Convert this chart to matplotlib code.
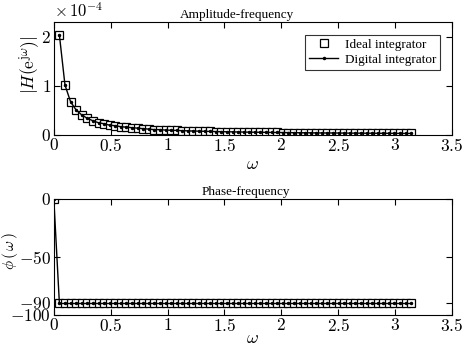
import matplotlib.pyplot as plt
import numpy as np

plt.rcParams['font.family'] = ['Liberation Serif', 'DejaVu Serif']
plt.rcParams['mathtext.fontset'] = 'cm'

# frequency points (rad/sample)
omega = [0.000, 0.049, 0.098, 0.147, 0.196, 0.245, 0.295, 0.344, 0.393, 0.442,
         0.491, 0.540, 0.589, 0.638, 0.687, 0.736, 0.785, 0.834, 0.884, 0.933,
         0.982, 1.031, 1.080, 1.129, 1.178, 1.227, 1.276, 1.325, 1.374, 1.424,
         1.473, 1.522, 1.571, 1.620, 1.669, 1.718, 1.767, 1.816, 1.865, 1.914,
         1.963, 2.013, 2.062, 2.111, 2.160, 2.209, 2.258, 2.307, 2.356, 2.405,
         2.454, 2.503, 2.553, 2.602, 2.651, 2.700, 2.749, 2.798, 2.847, 2.896,
         2.945, 2.994, 3.043, 3.093, 3.142]

# amplitude in units of 1e-4 (no point at omega = 0)
amp_ideal = [2.04, 1.02, 0.68, 0.51, 0.41, 0.34, 0.29, 0.25, 0.23, 0.20,
             0.19, 0.17, 0.16, 0.15, 0.14, 0.13, 0.12, 0.11, 0.11, 0.10,
             0.097, 0.093, 0.089, 0.085, 0.081, 0.078, 0.075, 0.073, 0.070, 0.068,
             0.066, 0.064, 0.062, 0.060, 0.058, 0.057, 0.055, 0.054, 0.052, 0.051,
             0.050, 0.049, 0.047, 0.046, 0.045, 0.044, 0.043, 0.042, 0.042, 0.041,
             0.040, 0.039, 0.038, 0.038, 0.037, 0.036, 0.036, 0.035, 0.035, 0.034,
             0.033, 0.033, 0.032, 0.032]
amp_digital = list(amp_ideal)

phase_ideal = [0] + [-90] * 64
phase_digital = [0] + [-90] * 64

x_ticks = [0, 0.5, 1, 1.5, 2, 2.5, 3, 3.5]
x_labels = ['$0$', '$0.5$', '$1$', '$1.5$', '$2$', '$2.5$', '$3$', '$3.5$']

fig = plt.figure(figsize=(4.64, 3.47), dpi=100)
ax1 = fig.add_axes([0.116, 0.611, 0.858, 0.326])
ax2 = fig.add_axes([0.116, 0.092, 0.858, 0.334])

ax1.plot(omega[1:], amp_ideal, 's', mfc='white', mec='black', ms=5.5, mew=0.9,
         label='Ideal integrator')
ax1.plot(omega[1:], amp_digital, '-', color='black', lw=1, marker='.', ms=3,
         label='Digital integrator')
ax1.set_xlim(0, 3.5)
ax1.set_ylim(0, 2.31)
ax1.set_yticks([0, 1, 2])
ax1.set_yticklabels(['$0$', '$1$', '$2$'])
ax1.set_xticks(x_ticks)
ax1.set_xticklabels(x_labels)
ax1.set_title('Amplitude-frequency', fontsize=9.5, pad=3, x=0.46)
ax1.set_xlabel(r'$\omega$', fontsize=13)
ax1.xaxis.set_label_coords(0.5, -0.19)
ax1.set_ylabel(r'$|H(\mathrm{e}^{\mathrm{j}\omega})|$', fontsize=12.5)
ax1.yaxis.set_label_coords(-0.03, 0.62)
ax1.text(0.0, 1.044, r'$\times\,10^{-4}$', transform=ax1.transAxes, fontsize=12,
         ha='left', va='baseline')
leg = ax1.legend(loc='upper right', bbox_to_anchor=(0.97, 0.885), fontsize=9.5,
                 frameon=True, fancybox=False, edgecolor='black',
                 handlelength=2.2, borderpad=0.3, labelspacing=0.2,
                 handletextpad=0.5, borderaxespad=0)
leg.get_frame().set_linewidth(0.8)

ax2.plot(omega, phase_ideal, 's', mfc='white', mec='black', ms=5.5, mew=0.9)
ax2.plot(omega, phase_digital, '-', color='black', lw=1, marker='.', ms=3)
ax2.set_xlim(0, 3.5)
ax2.set_ylim(-100, 0)
ax2.set_yticks([-100, -90, -50, 0])
ax2.set_yticklabels(['$-100$', '$-90$', '$-50$', '$0$'])
ax2.set_xticks(x_ticks)
ax2.set_xticklabels(x_labels)
ax2.set_title('Phase-frequency', fontsize=9.5, pad=3, x=0.482)
ax2.set_xlabel(r'$\omega$', fontsize=13)
ax2.xaxis.set_label_coords(0.5, -0.13)
ax2.set_ylabel(r'$\phi\,(\,\omega\,)$', fontsize=11)
ax2.yaxis.set_label_coords(-0.084, 0.55)

for ax in (ax1, ax2):
    ax.tick_params(direction='in', top=True, right=True, labelsize=12.5,
                   length=4, width=0.8, pad=2)
    for s in ax.spines.values():
        s.set_linewidth(0.8)

fig.savefig('out.png', dpi=100)
